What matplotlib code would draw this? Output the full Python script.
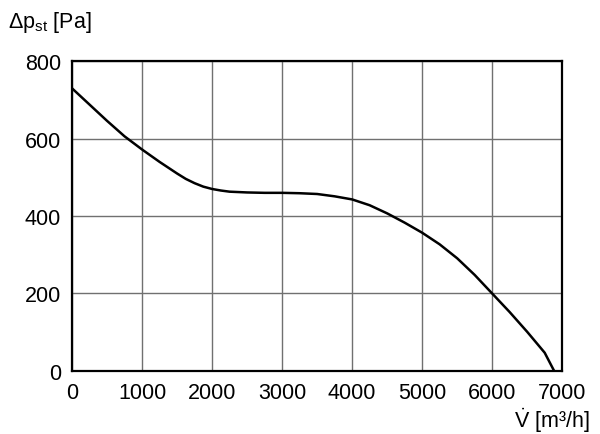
import matplotlib
matplotlib.use('Agg')
import matplotlib.pyplot as plt

# fan curve
flow = [0, 250, 500, 750, 1000, 1250, 1500, 1625, 1750, 1875, 2000, 2125,
        2250, 2500, 2750, 3000, 3250, 3500, 3750, 4000, 4250, 4500, 4750,
        5000, 5250, 5500, 5750, 6000, 6250, 6500, 6750, 6885]
pressure = [730, 688, 646, 606, 572, 540, 510, 496, 485, 476, 470, 466,
            463, 461, 460, 460, 459, 457, 451, 443, 428, 407, 383,
            357, 327, 291, 248, 200, 152, 101, 47, 0]

x_ticks = [0, 1000, 2000, 3000, 4000, 5000, 6000, 7000]
y_ticks = [0, 200, 400, 600, 800]

plt.rcParams['font.family'] = ['Liberation Sans', 'DejaVu Sans']
plt.rcParams['mathtext.fontset'] = 'custom'
plt.rcParams['mathtext.rm'] = 'Liberation Sans'

fig = plt.figure(figsize=(6, 4.35), dpi=100)
ax = fig.add_axes([0.12, 0.145, 0.817, 0.712])

ax.plot(flow, pressure, color='black', lw=1.8, zorder=3)

ax.set_xlim(0, 7000)
ax.set_ylim(0, 800)
ax.set_xticks(x_ticks)
ax.set_yticks(y_ticks)
ax.grid(True, color='#707070', lw=1)
ax.tick_params(length=0, labelsize=15.5, pad=8)
for s in ax.spines.values():
    s.set_linewidth(1.6)
    s.set_zorder(4)

fig.text(0.013, 0.948, r'$\Delta$p$_{\mathregular{st}}$ [Pa]', fontsize=15.5, va='center')
fig.text(0.983, 0.033, r'$\dot{\mathregular{V}}$ [m³/h]', fontsize=15.5,
         ha='right', va='center')

plt.savefig('out.png', dpi=100)
